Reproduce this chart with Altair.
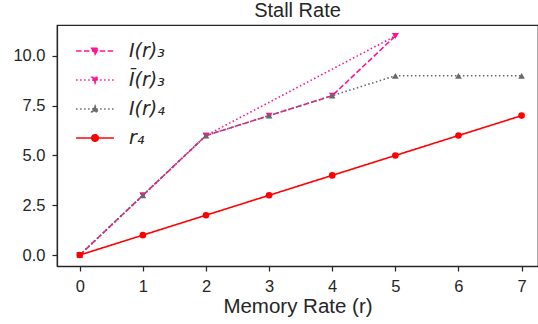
import altair as alt
import pandas as pd

# ---- data ----
series_names = ["I(r)₃", "Ī(r)₃", "I(r)₄", "r₄"]
i3_x = [0, 1, 2, 3, 4, 5]
i3_y = [0, 3, 6, 7, 8, 11]
ibar3_x = [0, 1, 2, 5]
ibar3_y = [0, 3, 6, 11]
i4_x = [0, 1, 2, 3, 4, 5, 6, 7]
i4_y = [0, 3, 6, 7, 8, 9, 9, 9]
r4_x = [0, 1, 2, 3, 4, 5, 6, 7]
r4_y = [0, 1, 2, 3, 4, 5, 6, 7]
x_ticks = [0, 1, 2, 3, 4, 5, 6, 7]
y_ticks = [0, 2.5, 5, 7.5, 10]

colors = ["#ff1493", "#ff1493", "#696969", "#ff0000"]
dashes = [[5.5, 2.4], [1.5, 2.5], [1.5, 2.5], [1, 0]]
shapes = ["triangle-down", "triangle-down", "triangle-up", "circle"]

rows = []
for name, xs, ys in zip(series_names, [i3_x, ibar3_x, i4_x, r4_x], [i3_y, ibar3_y, i4_y, r4_y]):
    for x, y in zip(xs, ys):
        rows.append({"series": name, "x": x, "y": y})
df = pd.DataFrame(rows)

FONT = "Liberation Sans"
TXT = "#262626"

xsc = alt.Scale(domain=[-0.36, 7.26], nice=False, zero=False)
ysc = alt.Scale(domain=[-0.55, 11.55], nice=False, zero=False)
csc = alt.Scale(domain=series_names, range=colors)

# legend symbol paths: line segment plus marker (unit coords scaled by 9 px)
tri_dn = "M-0.36,-0.3L0.36,-0.3L0,0.36Z"
tri_up = "M0,-0.36L0.36,0.3L-0.36,0.3Z"
circ = "M-0.36,0A0.36,0.36 0 1,0 0.36,0A0.36,0.36 0 1,0 -0.36,0Z"
line = "M-2.1,0H2.1"
paths = [line + tri_dn, line + tri_dn, line + tri_up, line + circ]
path_expr = "[" + ",".join("'" + p + "'" for p in paths) + "][datum.index]"
dash_expr = "[[5.5,2.4],[1.5,2.5],[1.5,2.5],[1,0]][datum.index]"
col_expr = "[" + ",".join("'" + c + "'" for c in colors) + "][datum.index]"

legend = alt.Legend(
    title=None, orient="none", legendX=28, legendY=16, padding=0,
    symbolType=alt.ExprRef(expr=path_expr),
    symbolDash=alt.ExprRef(expr=dash_expr),
    symbolFillColor=alt.ExprRef(expr=col_expr),
    symbolStrokeColor=alt.ExprRef(expr=col_expr),
    symbolStrokeWidth=1.6, symbolSize=324, symbolOpacity=1,
    labelFont="DejaVu Sans", labelFontStyle="italic", labelFontSize=19,
    labelColor=TXT, labelOffset=24, rowPadding=9, symbolOffset=0,
)

layers = []
for i, name in enumerate(series_names):
    base = alt.Chart(df).transform_filter(alt.datum.series == name)
    ln = base.mark_line(strokeWidth=1.6, strokeDash=dashes[i], color=colors[i]).encode(
        x=alt.X("x:Q", scale=xsc, title="Memory Rate (r)",
                axis=alt.Axis(values=x_ticks, format="d")),
        y=alt.Y("y:Q", scale=ysc, title=None,
                axis=alt.Axis(values=y_ticks, format=".1f")),
        color=alt.Color("series:N", scale=csc, legend=legend if i == 0 else None),
    )
    pt = base.mark_point(filled=True, opacity=1, shape=shapes[i], size=44,
                         color=colors[i]).encode(
        x=alt.X("x:Q", scale=xsc),
        y=alt.Y("y:Q", scale=ysc),
    )
    layers += [ln, pt]

chart = alt.layer(*layers).properties(
    width=481, height=241,
    title=alt.TitleParams("Stall Rate", font=FONT, fontSize=20, fontWeight="normal",
                          color=TXT, offset=4),
    autosize=alt.AutoSizeParams(type="none"),
    padding={"left": 57, "top": 25, "right": 0, "bottom": 58},
).configure_view(
    stroke=TXT, strokeWidth=1.25
).configure_axis(
    grid=False, labelFont=FONT, labelFontSize=16.5, labelColor=TXT,
    titleFont=FONT, titleFontSize=20.5, titleFontWeight="normal", titleColor=TXT,
    domainColor=TXT, domainWidth=1.25, tickColor=TXT, tickWidth=1.25, tickSize=5,
).configure_axisX(
    labelPadding=7, titlePadding=2,
).configure_axisY(
    labelPadding=7,
)

chart.save("out.html", embed_options={"renderer": "svg", "actions": False})
